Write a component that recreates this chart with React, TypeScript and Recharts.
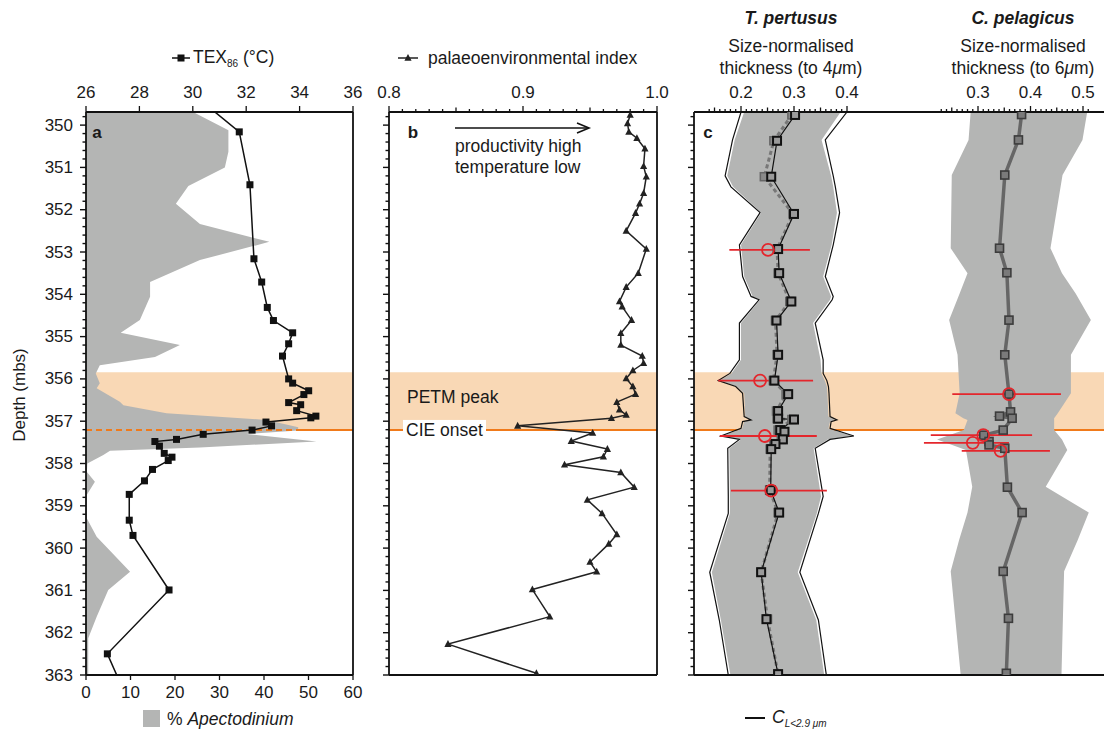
import React from 'react';
import { ComposedChart, Line, Area, XAxis, YAxis, ReferenceArea, ReferenceLine, ErrorBar } from 'recharts';

const FONT = '"Liberation Sans", Arial, Helvetica, sans-serif';
const GREY = '#b4b5b4';
const PEACH = '#f9d8b5';
const ORANGE = '#f07a1a';
const RED = '#e4262c';
const INK = '#1a1a1a';
const AXIS = { stroke: '#111', strokeWidth: 1.8 };

// depth axis (mbs)
const depthDomain = [349.69, 363];
const depthTicks = [350, 351, 352, 353, 354, 355, 356, 357, 358, 359, 360, 361, 362, 363];
const petmTop = 355.84;
const cieOnset = 357.21;

// panel a: TEX86 (°C)
const texDepth = [349.5, 350.16, 351.41, 353.16, 353.71, 354.31, 354.62, 354.91, 355.17, 355.46, 356.0, 356.1, 356.28, 356.37, 356.56, 356.61, 356.75, 356.88, 356.92, 357.02, 357.11, 357.21, 357.31, 357.43, 357.48, 357.59, 357.76, 357.85, 357.93, 358.14, 358.41, 358.73, 359.34, 359.7, 360.99, 362.5, 363.2];
const texValue = [30.46, 31.74, 32.14, 32.29, 32.58, 32.79, 33.02, 33.74, 33.59, 33.36, 33.59, 33.74, 34.34, 34.16, 33.59, 34.04, 33.89, 34.61, 34.42, 32.74, 32.95, 32.22, 30.39, 29.39, 28.58, 28.75, 28.93, 29.22, 29.08, 28.49, 28.19, 27.62, 27.62, 27.76, 29.11, 26.8, 27.29];
const texTicks = [26, 28, 30, 32, 34, 36];

// panel a: % Apectodinium
const apDepth = [349.6, 350.12, 350.63, 351.0, 351.44, 351.86, 352.34, 352.76, 353.19, 353.71, 354.06, 354.61, 354.91, 355.2, 355.48, 355.68, 355.87, 356.1, 356.22, 356.54, 356.62, 356.81, 356.97, 357.14, 357.22, 357.3, 357.48, 357.62, 357.7, 357.8, 358.0, 358.2, 358.43, 358.74, 359.3, 359.73, 360.56, 360.99, 361.62, 362.13, 363.0];
const apValue = [22.4, 32.0, 32.0, 31.2, 23.0, 20.2, 25.6, 41.2, 25.6, 14.4, 14.4, 12.1, 7.8, 21.1, 15.5, 3.1, 2.2, 3.1, 2.4, 7.6, 8.4, 18.1, 40.6, 47.7, 47.6, 36.1, 51.8, 25.6, 5.4, 3.9, 0.3, 0.2, 2.0, 0.2, 0.2, 2.4, 9.9, 5.0, 2.4, 0.5, 0.5];
const apTicks = [0, 10, 20, 30, 40, 50, 60];

// panel b: palaeoenvironmental index
const palDepth = [349.76, 349.96, 350.16, 350.31, 350.56, 350.97, 351.22, 351.61, 351.86, 352.08, 352.5, 352.93, 353.5, 353.83, 354.17, 354.29, 354.61, 354.92, 355.2, 355.46, 355.63, 355.8, 355.99, 356.18, 356.36, 356.55, 356.73, 356.85, 356.93, 357.11, 357.28, 357.47, 357.66, 357.84, 358.03, 358.21, 358.56, 358.86, 359.18, 359.68, 359.9, 360.33, 360.56, 360.98, 361.62, 362.27, 362.96];
const palValue = [0.980, 0.978, 0.979, 0.985, 0.991, 0.990, 0.992, 0.990, 0.987, 0.984, 0.977, 0.992, 0.986, 0.977, 0.972, 0.974, 0.981, 0.973, 0.973, 0.989, 0.990, 0.982, 0.977, 0.982, 0.984, 0.970, 0.972, 0.977, 0.966, 0.896, 0.952, 0.936, 0.963, 0.960, 0.931, 0.973, 0.983, 0.948, 0.959, 0.970, 0.964, 0.950, 0.955, 0.907, 0.920, 0.844, 0.910];
const palMajor = [0.8, 0.9, 1.0];

// panel c: T. pertusus
const tpDepth = [349.76, 350.37, 351.22, 352.1, 352.93, 353.5, 354.17, 354.62, 355.43, 356.04, 356.36, 356.76, 356.94, 356.96, 357.21, 357.25, 357.43, 357.54, 357.66, 358.63, 359.16, 360.57, 361.68, 362.98];
const tpBlack = [0.302, 0.268, 0.257, 0.300, 0.270, 0.272, 0.295, 0.267, 0.270, 0.263, 0.289, 0.270, 0.270, 0.300, 0.274, 0.282, 0.279, 0.265, 0.257, 0.256, 0.272, 0.238, 0.248, 0.270];
const tpGrey = [0.296, 0.262, 0.244, 0.298, 0.268, 0.270, 0.292, 0.265, 0.268, 0.261, 0.285, 0.267, 0.268, 0.296, 0.270, 0.278, 0.276, 0.262, 0.255, 0.254, 0.270, 0.238, 0.250, 0.270];
const tpBandDepth = [349.69, 350.35, 351.2, 351.46, 352.07, 352.83, 353.58, 354.05, 354.13, 354.68, 355.55, 355.87, 356.04, 356.18, 356.34, 356.89, 356.97, 357.01, 357.17, 357.35, 357.43, 357.64, 358.78, 359.18, 360.57, 361.7, 363.0];
const tpBandLo = [0.206, 0.188, 0.174, 0.185, 0.238, 0.200, 0.206, 0.222, 0.236, 0.200, 0.200, 0.182, 0.160, 0.192, 0.206, 0.208, 0.220, 0.206, 0.202, 0.165, 0.200, 0.178, 0.179, 0.179, 0.145, 0.162, 0.180];
const tpBandHi = [0.388, 0.352, 0.370, 0.374, 0.381, 0.371, 0.355, 0.370, 0.368, 0.336, 0.350, 0.352, 0.358, 0.362, 0.363, 0.365, 0.378, 0.368, 0.365, 0.410, 0.364, 0.337, 0.351, 0.343, 0.307, 0.342, 0.357];
const tpEdgeLo = [0.200, 0.184, 0.170, 0.181, 0.236, 0.197, 0.203, 0.219, 0.234, 0.197, 0.197, 0.179, 0.157, 0.190, 0.203, 0.206, 0.219, 0.203, 0.200, 0.162, 0.197, 0.175, 0.176, 0.176, 0.141, 0.159, 0.176];
const tpEdgeHi = [0.400, 0.359, 0.374, 0.378, 0.386, 0.374, 0.359, 0.374, 0.372, 0.340, 0.355, 0.355, 0.362, 0.365, 0.366, 0.368, 0.381, 0.370, 0.368, 0.413, 0.368, 0.340, 0.355, 0.346, 0.311, 0.346, 0.361];
const tpRedDepth = [352.95, 356.04, 357.35, 358.64];
const tpRedMean = [0.251, 0.236, 0.245, 0.257];
const tpRedLo = [0.178, 0.157, 0.160, 0.181];
const tpRedHi = [0.330, 0.336, 0.343, 0.362];

// panel c: C. pelagicus
const cpDepth = [349.75, 350.35, 351.18, 352.91, 353.49, 354.61, 355.43, 356.36, 356.78, 356.88, 356.93, 357.21, 357.33, 357.48, 357.56, 357.64, 358.56, 359.16, 360.55, 361.66, 362.96];
const cpValue = [0.383, 0.377, 0.351, 0.341, 0.355, 0.359, 0.351, 0.359, 0.362, 0.341, 0.365, 0.348, 0.311, 0.321, 0.321, 0.351, 0.356, 0.384, 0.348, 0.358, 0.354];
const cpBandDepth = [349.69, 350.35, 351.18, 352.91, 353.5, 353.98, 354.61, 355.43, 356.34, 356.81, 356.93, 356.97, 357.21, 357.43, 357.68, 358.55, 359.16, 359.81, 360.55, 363.0];
const cpBandLo = [0.286, 0.282, 0.250, 0.248, 0.280, 0.265, 0.245, 0.261, 0.265, 0.257, 0.272, 0.280, 0.273, 0.222, 0.277, 0.289, 0.280, 0.264, 0.248, 0.267];
const cpBandHi = [0.508, 0.499, 0.461, 0.438, 0.460, 0.486, 0.515, 0.477, 0.477, 0.452, 0.445, 0.445, 0.445, 0.460, 0.470, 0.429, 0.511, 0.490, 0.464, 0.459];
const cpRedDepth = [356.36, 357.33, 357.51, 357.70];
const cpRedMean = [0.359, 0.310, 0.290, 0.343];
const cpRedLo = [0.251, 0.210, 0.197, 0.269];
const cpRedHi = [0.458, 0.403, 0.359, 0.437];
const sizeMajor = [0.2, 0.3, 0.4, 0.5];
const sizeMid = [0.15, 0.25, 0.35, 0.45];

// helpers
const steps = (from: number, to: number, step: number) => {
  const out: number[] = [];
  for (let v = from; v <= to + 1e-9; v += step) out.push(Math.round(v * 1000) / 1000);
  return out;
};
const near = (v: number, list: number[]) => list.some((b) => Math.abs(v - b) < 1e-6);

const texRows = texDepth.map((d, i) => ({ depth: d, tex: texValue[i] }));
const apRows = apDepth.map((d, i) => ({ depth: d, ap: apValue[i] }));
const palRows = palDepth.map((d, i) => ({ depth: d, p: palValue[i] }));
const tpRows = tpDepth.map((d, i) => ({ depth: d, black: tpBlack[i], grey: tpGrey[i] }));
const tpBandRows = tpBandDepth.map((d, i) => ({ depth: d, band: [tpBandLo[i], tpBandHi[i]], lo: tpEdgeLo[i], hi: tpEdgeHi[i] }));
const tpRedRows = tpRedDepth.map((d, i) => ({ depth: d, v: tpRedMean[i], err: [tpRedMean[i] - tpRedLo[i], tpRedHi[i] - tpRedMean[i]] }));
const cpRows = cpDepth.map((d, i) => ({ depth: d, v: cpValue[i] }));
const cpBandRows = cpBandDepth.map((d, i) => ({ depth: d, band: [cpBandLo[i], cpBandHi[i]] }));
const cpRedRows = cpRedDepth.map((d, i) => ({ depth: d, v: cpRedMean[i], err: [cpRedMean[i] - cpRedLo[i], cpRedHi[i] - cpRedMean[i]] }));

const depthMinor = steps(349.8, 363, 0.2);

const tickText = { fontFamily: FONT, fontSize: 17, fill: INK };

const leftTick = (labels: boolean) => (p: any) => {
  const v = p.payload.value;
  const major = near(v, depthTicks);
  return (
    <g>
      <line x1={p.x} x2={p.x - (major ? 6 : 3.5)} y1={p.y} y2={p.y} stroke="#111" strokeWidth={1.4} />
      {labels && major ? (
        <text x={p.x - 13} y={p.y} textAnchor="end" dominantBaseline="central" {...tickText}>{v}</text>
      ) : null}
    </g>
  );
};

const topTick = (major: number[], mid: number[], fmt: (v: number) => string) => (p: any) => {
  const v = p.payload.value;
  const isMajor = near(v, major);
  const len = isMajor ? 6 : near(v, mid) ? 4.5 : 3;
  return (
    <g>
      <line x1={p.x} x2={p.x} y1={p.y} y2={p.y - len} stroke="#111" strokeWidth={1.3} />
      {isMajor ? (
        <text x={p.x} y={p.y - 20} textAnchor="middle" dominantBaseline="central" {...tickText}>{fmt(v)}</text>
      ) : null}
    </g>
  );
};

const bottomTick = (p: any) => (
  <g>
    <line x1={p.x} x2={p.x} y1={p.y} y2={p.y + 5} stroke="#111" strokeWidth={1.3} />
    <text x={p.x} y={p.y + 17} textAnchor="middle" dominantBaseline="central" {...tickText}>{p.payload.value}</text>
  </g>
);

const squareDot = (size: number, fill: string, stroke: string, sw: number) => (p: any) => (
  <rect key={`s${p.index}`} x={p.cx - size / 2} y={p.cy - size / 2} width={size} height={size} fill={fill} stroke={stroke} strokeWidth={sw} />
);
const triangleDot = (p: any) => (
  <polygon key={`t${p.index}`} points={`${p.cx},${p.cy - 4} ${p.cx - 3.6},${p.cy + 2.8} ${p.cx + 3.6},${p.cy + 2.8}`} fill="#222" />
);
const redCircle = (p: any) => (
  <circle key={`c${p.index}`} cx={p.cx} cy={p.cy} r={6} fill="none" stroke={RED} strokeWidth={1.8} />
);

const yAxisProps = {
  type: 'number' as const,
  dataKey: 'depth',
  domain: depthDomain,
  allowDataOverflow: true,
  ticks: depthMinor,
  interval: 0 as const,
  tickLine: false,
  tickSize: 0,
  tickMargin: 0,
  axisLine: AXIS,
};

const Txt = ({ x, y, anchor = 'start', size = 17.5, style, children }: any) => (
  <div
    style={{
      position: 'absolute',
      left: x,
      top: y,
      transform: `translate(${anchor === 'middle' ? '-50%' : anchor === 'end' ? '-100%' : '0'}, -50%)`,
      fontSize: size,
      lineHeight: 1.15,
      whiteSpace: 'nowrap',
      color: INK,
      ...style,
    }}
  >
    {children}
  </div>
);

export default function App() {
  return (
    <div style={{ position: 'absolute', left: 0, top: 0, width: 1104, height: 733, background: '#fff', fontFamily: FONT, overflow: 'hidden' }}>
      {/* panel a */}
      <div style={{ position: 'absolute', left: 0, top: 0 }}>
        <ComposedChart layout="vertical" width={372} height={712} margin={{ top: 82, right: 19, bottom: 7, left: 0 }}>
          <YAxis {...yAxisProps} width={86} tick={leftTick(true)} />
          <XAxis xAxisId="tex" orientation="top" type="number" domain={[26, 36]} allowDataOverflow ticks={texTicks} interval={0} height={30} tickLine={false} tickSize={0} tickMargin={0} axisLine={AXIS} tick={topTick(texTicks, [], (v) => String(v))} />
          <XAxis xAxisId="ap" orientation="bottom" type="number" domain={[0, 60]} allowDataOverflow ticks={apTicks} interval={0} height={30} tickLine={false} tickSize={0} tickMargin={0} axisLine={AXIS} tick={bottomTick} />
          <ReferenceArea xAxisId="tex" y1={petmTop} y2={cieOnset} fill={PEACH} fillOpacity={1} stroke="none" />
          <Area xAxisId="ap" data={apRows} dataKey="ap" type="linear" fill={GREY} fillOpacity={1} stroke="none" isAnimationActive={false} />
          <ReferenceLine xAxisId="tex" y={cieOnset} stroke={ORANGE} strokeWidth={2} strokeDasharray="6 4" />
          <ReferenceLine xAxisId="tex" segment={[{ x: 33.9, y: cieOnset }, { x: 36, y: cieOnset }]} stroke={ORANGE} strokeWidth={2} />
          <ReferenceLine xAxisId="tex" x={36} stroke="#111" strokeWidth={1.8} />
          <Line xAxisId="tex" data={texRows} dataKey="tex" type="linear" stroke="#111" strokeWidth={1.5} dot={squareDot(7, '#111', '#111', 0)} activeDot={false} isAnimationActive={false} />
        </ComposedChart>
      </div>

      {/* panel b */}
      <div style={{ position: 'absolute', left: 369, top: 0 }}>
        <ComposedChart layout="vertical" width={305} height={680} margin={{ top: 82, right: 17, bottom: 5, left: 0 }}>
          <YAxis {...yAxisProps} width={20} tick={leftTick(false)} />
          <XAxis xAxisId="p" orientation="top" type="number" domain={[0.8, 1.0]} allowDataOverflow ticks={steps(0.8, 1.0, 0.01)} interval={0} height={30} tickLine={false} tickSize={0} tickMargin={0} axisLine={AXIS} tick={topTick(palMajor, [0.85, 0.95], (v) => v.toFixed(1))} />
          <ReferenceArea xAxisId="p" y1={petmTop} y2={cieOnset} fill={PEACH} fillOpacity={1} stroke="none" />
          <ReferenceLine xAxisId="p" y={cieOnset} stroke={ORANGE} strokeWidth={2} />
          <ReferenceLine xAxisId="p" x={1.0} stroke="#111" strokeWidth={1.8} />
          <ReferenceLine xAxisId="p" y={363} stroke="#111" strokeWidth={1.8} />
          <Line xAxisId="p" data={palRows} dataKey="p" type="linear" stroke="#222" strokeWidth={1.5} dot={triangleDot} activeDot={false} isAnimationActive={false} />
        </ComposedChart>
      </div>

      {/* panel c: T. pertusus */}
      <div style={{ position: 'absolute', left: 674, top: 0 }}>
        <ComposedChart layout="vertical" width={226} height={680} margin={{ top: 82, right: 0, bottom: 5, left: 0 }}>
          <YAxis {...yAxisProps} width={20} tick={leftTick(false)} />
          <XAxis xAxisId="tp" orientation="top" type="number" domain={[0.1113, 0.5]} allowDataOverflow ticks={steps(0.14, 0.4, 0.01)} interval={0} height={30} tickLine={false} tickSize={0} tickMargin={0} axisLine={AXIS} tick={topTick(sizeMajor, sizeMid, (v) => v.toFixed(1))} />
          <ReferenceArea xAxisId="tp" y1={petmTop} y2={cieOnset} fill={PEACH} fillOpacity={1} stroke="none" zIndex={40} />
          <ReferenceLine xAxisId="tp" y={cieOnset} stroke={ORANGE} strokeWidth={2} zIndex={50} />
          <ReferenceLine xAxisId="tp" y={363} stroke="#111" strokeWidth={1.8} />
          <Area xAxisId="tp" data={tpBandRows} dataKey="band" type="linear" fill={GREY} fillOpacity={1} stroke="none" isAnimationActive={false} />
          <Line xAxisId="tp" data={tpBandRows} dataKey="lo" type="linear" stroke="#111" strokeWidth={1.2} dot={false} activeDot={false} isAnimationActive={false} />
          <Line xAxisId="tp" data={tpBandRows} dataKey="hi" type="linear" stroke="#111" strokeWidth={1.2} dot={false} activeDot={false} isAnimationActive={false} />
          <Line xAxisId="tp" data={tpRows} dataKey="grey" type="linear" stroke="#777" strokeWidth={3} strokeDasharray="4 3" dot={squareDot(8, '#8a8a8a', '#666', 1.5)} activeDot={false} isAnimationActive={false} />
          <Line xAxisId="tp" data={tpRows} dataKey="black" type="linear" stroke="#111" strokeWidth={1.2} dot={squareDot(8, '#9a9a9a', '#111', 2)} activeDot={false} isAnimationActive={false} />
          <Line xAxisId="tp" data={tpRedRows} dataKey="v" type="linear" stroke="none" dot={redCircle} activeDot={false} isAnimationActive={false}>
            <ErrorBar dataKey="err" direction="x" width={0} stroke={RED} strokeWidth={1.8} />
          </Line>
        </ComposedChart>
      </div>

      {/* panel c: C. pelagicus */}
      <div style={{ position: 'absolute', left: 900, top: 0 }}>
        <ComposedChart layout="vertical" width={204} height={680} margin={{ top: 82, right: 0, bottom: 5, left: 0 }}>
          <YAxis {...yAxisProps} hide />
          <XAxis xAxisId="cp" orientation="top" type="number" domain={[0.1514, 0.54]} allowDataOverflow ticks={steps(0.23, 0.51, 0.01)} interval={0} height={30} tickLine={false} tickSize={0} tickMargin={0} axisLine={AXIS} tick={topTick(sizeMajor, sizeMid, (v) => v.toFixed(1))} />
          <ReferenceArea xAxisId="cp" y1={petmTop} y2={cieOnset} fill={PEACH} fillOpacity={1} stroke="none" zIndex={40} />
          <ReferenceLine xAxisId="cp" y={cieOnset} stroke={ORANGE} strokeWidth={2} zIndex={50} />
          <ReferenceLine xAxisId="cp" y={363} stroke="#111" strokeWidth={1.8} />
          <Area xAxisId="cp" data={cpBandRows} dataKey="band" type="linear" fill={GREY} fillOpacity={1} stroke="none" isAnimationActive={false} />
          <Line xAxisId="cp" data={cpRows} dataKey="v" type="linear" stroke="#666" strokeWidth={3.5} dot={squareDot(8, '#7a7a7a', '#3c3c3c', 1.6)} activeDot={false} isAnimationActive={false} />
          <Line xAxisId="cp" data={cpRedRows} dataKey="v" type="linear" stroke="none" dot={redCircle} activeDot={false} isAnimationActive={false}>
            <ErrorBar dataKey="err" direction="x" width={0} stroke={RED} strokeWidth={1.8} />
          </Line>
        </ComposedChart>
      </div>

      {/* depth label */}
      <div style={{ position: 'absolute', left: 20, top: 395, transform: 'translate(-50%, -50%) rotate(-90deg)', fontSize: 17, whiteSpace: 'nowrap', color: INK }}>
        Depth (mbs)
      </div>

      {/* panel letters */}
      <Txt x={97} y={133} anchor="middle" size={17} style={{ fontWeight: 700 }}>a</Txt>
      <Txt x={413} y={133} anchor="middle" size={17} style={{ fontWeight: 700 }}>b</Txt>
      <Txt x={708} y={133} anchor="middle" size={17} style={{ fontWeight: 700 }}>c</Txt>

      {/* legend marks and arrow */}
      <svg style={{ position: 'absolute', left: 0, top: 0 }} width={1104} height={733} pointerEvents="none">
        <line x1={172} x2={190} y1={58} y2={58} stroke="#111" strokeWidth={1.5} />
        <rect x={177.5} y={54.5} width={7} height={7} fill="#111" />
        <line x1={398} x2={418} y1={58} y2={58} stroke="#222" strokeWidth={1.5} />
        <polygon points="408,54 404.4,60.8 411.6,60.8" fill="#222" />
        <line x1={455} x2={588} y1={128} y2={128} stroke="#111" strokeWidth={1.6} />
        <polyline points="577,123 589,128 577,133" fill="none" stroke="#111" strokeWidth={1.6} />
        <rect x={143} y={710} width={17} height={17} fill={GREY} />
        <line x1={745} x2={765} y1={718} y2={718} stroke="#111" strokeWidth={2} />
      </svg>
      <Txt x={193} y={58}>
        TEX<sub style={{ fontSize: 10 }}>86</sub> (°C)
      </Txt>
      <Txt x={428} y={58}>palaeoenvironmental index</Txt>

      <Txt x={455} y={146}>productivity high</Txt>
      <Txt x={455} y={167}>temperature low</Txt>
      <Txt x={407} y={397}>PETM peak</Txt>
      <Txt x={403} y={430} style={{ background: '#fff', padding: '0 3px' }}>CIE onset</Txt>

      {/* panel c titles */}
      <Txt x={791} y={18} anchor="middle" style={{ fontWeight: 700, fontStyle: 'italic' }}>T. pertusus</Txt>
      <Txt x={791} y={46} anchor="middle">Size-normalised</Txt>
      <Txt x={791} y={68} anchor="middle">
        thickness (to 4<i>μ</i>m)
      </Txt>
      <Txt x={1023} y={18} anchor="middle" style={{ fontWeight: 700, fontStyle: 'italic' }}>C. pelagicus</Txt>
      <Txt x={1023} y={46} anchor="middle">Size-normalised</Txt>
      <Txt x={1023} y={68} anchor="middle">
        thickness (to 6<i>μ</i>m)
      </Txt>

      {/* bottom legends */}
      <Txt x={167} y={719}>
        % <i>Apectodinium</i>
      </Txt>
      <Txt x={772} y={718}>
        <i>C</i>
        <sub style={{ fontSize: 10, fontStyle: 'italic' }}>L&lt;2.9 μm</sub>
      </Txt>
    </div>
  );
}
